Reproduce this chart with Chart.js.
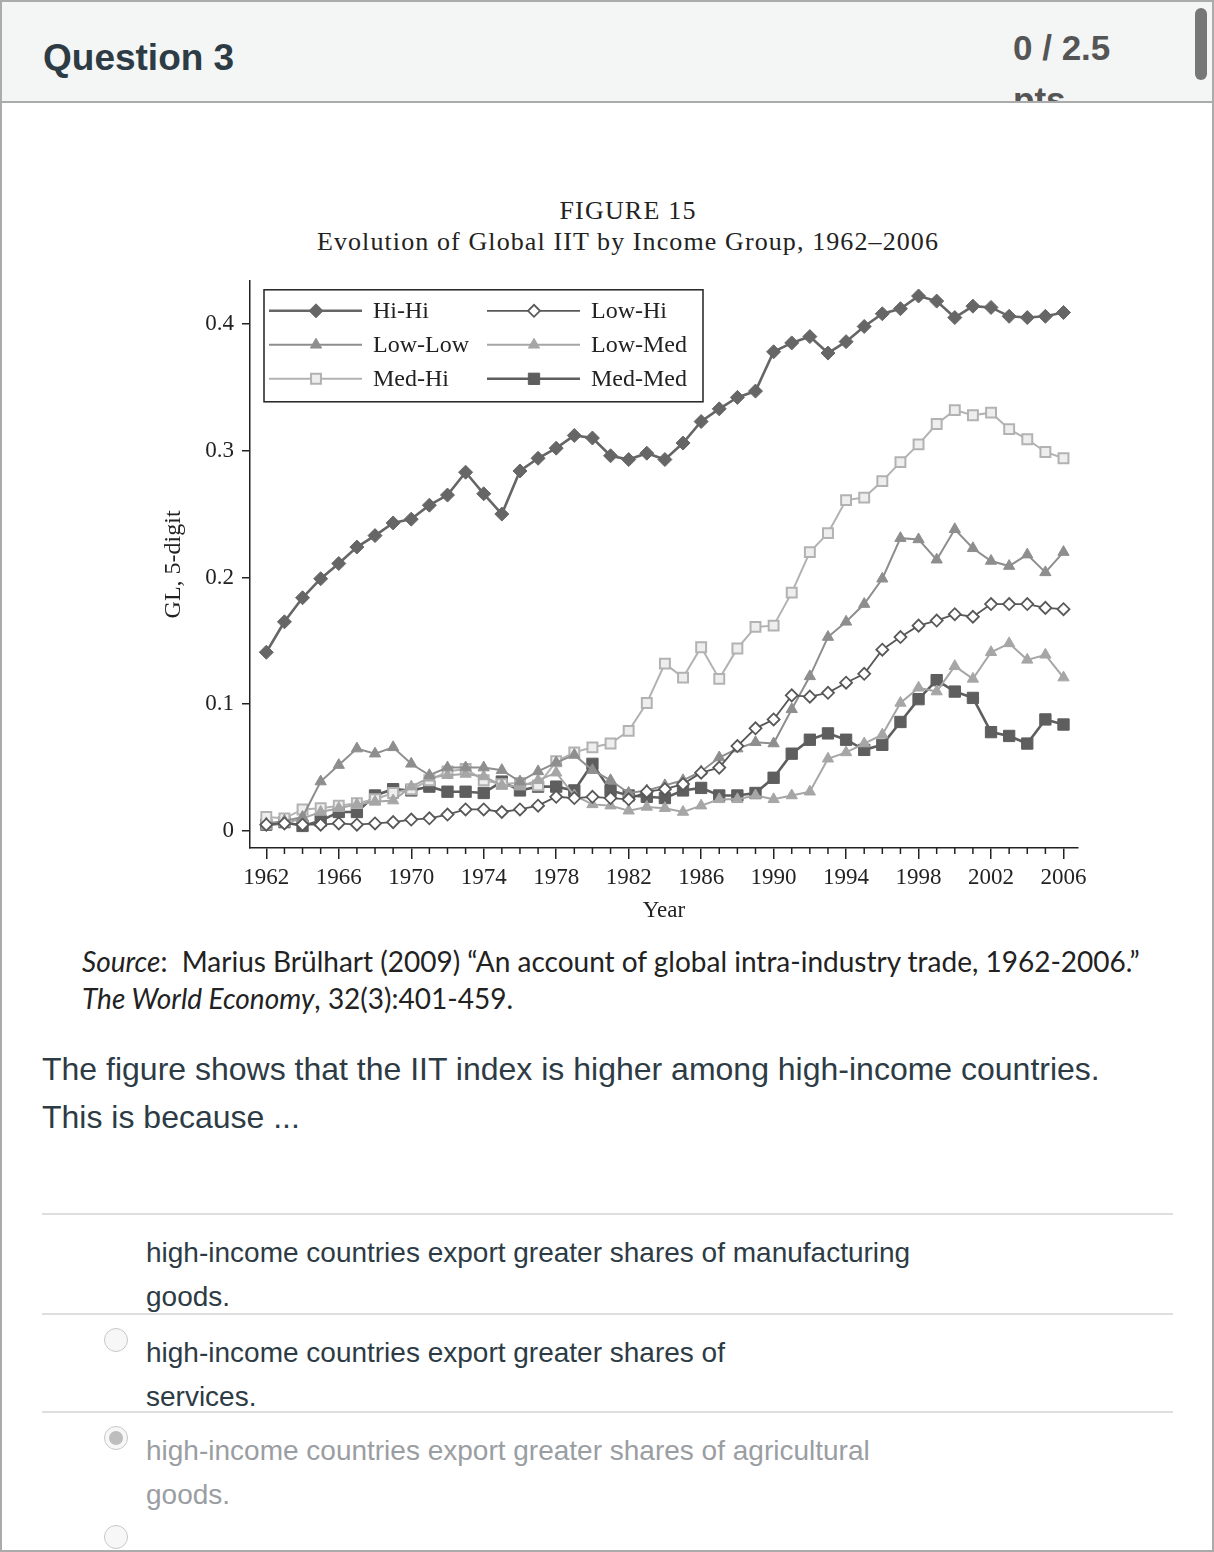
<!DOCTYPE html>
<html lang="en">
<head>
<meta charset="UTF-8">
<title>Question 3</title>
<script src="https://cdn.jsdelivr.net/npm/chart.js"></script>
<style>
    body { margin: 0; background: #fff; }
    .page {
        position: relative;
        width: 1210px;
        height: 1548px;
        border: 2px solid #ababab;
        overflow: hidden;
        font-family: 'Liberation Sans', Arial, sans-serif;
        color: #2d3b45;
    }
    .header {
        position: absolute; left: 0; top: 0; width: 1210px; height: 99px;
        background: #f4f5f5; border-bottom: 2px solid #ababab; overflow: hidden;
    }
    .qtitle { position: absolute; left: 41px; top: 35px; font-size: 37px; font-weight: bold; }
    .pts { position: absolute; left: 1011px; top: 20px; width: 120px; font-size: 35px; font-weight: bold; color: #555; line-height: 52px; }
    .scroll { position: absolute; left: 1193px; top: 6px; width: 12px; height: 72px; border-radius: 6px; background: #777; }
    .fig { position: absolute; left: 0; width: 1252px; text-align: center; font-family: 'Liberation Serif', serif; color: #222; font-size: 26px; }
    #chartBox { position: absolute; left: 148px; top: 257px; width: 950px; height: 671px; }
    .source { position: absolute; left: 80px; top: 941px; font-family: Lato, sans-serif; font-size: 28px; line-height: 37px; color: #222; white-space: nowrap; }
    .qtext { position: absolute; left: 40px; top: 1043px; font-size: 32px; line-height: 48px; white-space: nowrap; }
    .rule { position: absolute; left: 40px; width: 1131px; height: 2px; background: #dedede; }
    .opt { position: absolute; left: 144px; font-size: 28px; line-height: 44px; white-space: nowrap; }
    .radio { position: absolute; width: 22px; height: 22px; border-radius: 50%; border: 1.5px solid #c8c8c8; background: #f7f7f7; }
    .radio.on::after { content: ''; position: absolute; left: 4px; top: 4px; width: 14px; height: 14px; border-radius: 50%; background: #bdbdbd; }
</style>
</head>
<body>
<div class="page">
    <div class="header">
        <div class="qtitle">Question 3</div>
        <div class="pts">0 / 2.5 pts</div>
        <div class="scroll"></div>
    </div>

    <div class="fig" style="top:194px; letter-spacing:1.2px">FIGURE 15</div>
    <div class="fig" style="top:225px; letter-spacing:1.1px">Evolution of Global IIT by Income Group, 1962–2006</div>

    <div id="chartBox"><canvas id="iitChart" width="950" height="671"></canvas></div>

    <div class="source"><i>Source</i>:&nbsp; Marius Brülhart (2009) “An account of global intra-industry trade, 1962-2006.”<br><i>The World Economy</i>, 32(3):401-459.</div>

    <div class="qtext">The figure shows that the IIT index is higher among high-income countries.<br>This is because ...</div>

    <div class="rule" style="top:1211px"></div>
    <div class="opt" style="top:1229px">high-income countries export greater shares of manufacturing<br>goods.</div>
    <div class="rule" style="top:1311px"></div>
    <div class="radio" style="left:102px; top:1326px"></div>
    <div class="opt" style="top:1329px">high-income countries export greater shares of<br>services.</div>
    <div class="rule" style="top:1409px"></div>
    <div class="radio on" style="left:102px; top:1424px"></div>
    <div class="opt" style="top:1427px; color:#9a9ea2">high-income countries export greater shares of agricultural<br>goods.</div>
    <div class="radio" style="left:102px; top:1523px"></div>
</div>

<script>
// --- data ---
const years = [1962,1963,1964,1965,1966,1967,1968,1969,1970,1971,
               1972,1973,1974,1975,1976,1977,1978,1979,1980,1981,
               1982,1983,1984,1985,1986,1987,1988,1989,1990,1991,
               1992,1993,1994,1995,1996,1997,1998,1999,2000,2001,
               2002,2003,2004,2005,2006];
const yTicks = [0, 0.1, 0.2, 0.3, 0.4];

const hiHi = [0.141,0.165,0.184,0.199,0.211,0.224,0.233,0.243,0.246,0.257,
              0.265,0.283,0.266,0.250,0.284,0.294,0.302,0.312,0.310,0.296,
              0.293,0.298,0.293,0.306,0.323,0.333,0.342,0.347,0.378,0.385,
              0.390,0.377,0.386,0.398,0.408,0.412,0.422,0.418,0.405,0.414,
              0.413,0.406,0.405,0.406,0.409];
const lowHi = [0.005,0.006,0.005,0.005,0.006,0.005,0.006,0.007,0.009,0.010,
               0.013,0.017,0.017,0.015,0.017,0.020,0.027,0.026,0.027,0.026,
               0.025,0.031,0.033,0.037,0.046,0.050,0.067,0.081,0.088,0.107,
               0.106,0.109,0.117,0.124,0.143,0.153,0.162,0.166,0.171,0.169,
               0.179,0.179,0.179,0.176,0.175];
const lowLow = [0.006,0.008,0.011,0.039,0.052,0.065,0.061,0.066,0.053,0.044,
                0.050,0.050,0.050,0.048,0.039,0.047,0.054,0.060,0.048,0.040,
                0.030,0.032,0.036,0.040,0.047,0.058,0.065,0.070,0.069,0.096,
                0.122,0.153,0.165,0.179,0.199,0.231,0.230,0.214,0.238,0.223,
                0.213,0.209,0.218,0.204,0.220];
const lowMed = [0.004,0.006,0.010,0.015,0.018,0.021,0.023,0.024,0.035,0.042,
                0.044,0.045,0.043,0.036,0.035,0.040,0.046,0.028,0.021,0.020,
                0.016,0.019,0.018,0.015,0.020,0.025,0.025,0.028,0.025,0.028,
                0.031,0.057,0.062,0.069,0.076,0.101,0.113,0.110,0.130,0.120,
                0.141,0.148,0.135,0.139,0.121];
const medHi = [0.011,0.010,0.017,0.018,0.020,0.022,0.025,0.030,0.033,0.040,
               0.047,0.049,0.040,0.037,0.038,0.036,0.055,0.062,0.066,0.069,
               0.079,0.101,0.132,0.121,0.145,0.120,0.144,0.161,0.162,0.188,
               0.220,0.235,0.261,0.263,0.276,0.291,0.305,0.321,0.332,0.328,
               0.330,0.317,0.309,0.299,0.294];
const medMed = [0.005,0.007,0.004,0.008,0.015,0.015,0.028,0.033,0.032,0.035,
                0.031,0.031,0.030,0.039,0.032,0.035,0.035,0.032,0.053,0.032,
                0.028,0.027,0.026,0.032,0.034,0.028,0.028,0.030,0.042,0.061,
                0.072,0.077,0.072,0.064,0.068,0.086,0.104,0.119,0.110,0.105,
                0.078,0.075,0.069,0.088,0.084];

const serif = 'Liberation Serif';

function series(label, values, style) {
    return Object.assign({
        label: label,
        data: years.map((yr, i) => ({ x: yr, y: values[i] })),
        tension: 0,
        fill: false
    }, style);
}

const datasets = [
    series('Hi-Hi', hiHi, { borderColor: '#666666', backgroundColor: '#666666', borderWidth: 2.6,
        pointStyle: 'rectRot', pointRadius: 7, pointBorderWidth: 1, pointBorderColor: '#666666' }),
    series('Low-Hi', lowHi, { borderColor: '#585858', backgroundColor: '#ffffff', borderWidth: 1.8,
        pointStyle: 'rectRot', pointRadius: 6, pointBorderWidth: 1.8, pointBorderColor: '#585858' }),
    series('Low-Low', lowLow, { borderColor: '#8e8e8e', backgroundColor: '#8e8e8e', borderWidth: 2,
        pointStyle: 'triangle', pointRadius: 6.5, pointBorderWidth: 1, pointBorderColor: '#8e8e8e' }),
    series('Low-Med', lowMed, { borderColor: '#a6a6a6', backgroundColor: '#a6a6a6', borderWidth: 2,
        pointStyle: 'triangle', pointRadius: 6.5, pointBorderWidth: 1, pointBorderColor: '#a6a6a6' }),
    series('Med-Hi', medHi, { borderColor: '#b2b2b2', backgroundColor: '#eeeeee', borderWidth: 2,
        pointStyle: 'rect', pointRadius: 7, pointBorderWidth: 2, pointBorderColor: '#b2b2b2' }),
    series('Med-Med', medMed, { borderColor: '#5e5e5e', backgroundColor: '#5e5e5e', borderWidth: 2.6,
        pointStyle: 'rect', pointRadius: 8, pointBorderWidth: 1, pointBorderColor: '#5e5e5e' })
];

// boxed two-column legend in the top-left corner of the plot
const boxLegend = {
    id: 'boxLegend',
    afterDraw(chart) {
        const ctx = chart.ctx;
        const area = chart.chartArea;
        const left = area.left + 14, top = area.top + 9;
        ctx.save();
        ctx.lineWidth = 1.5;
        ctx.strokeStyle = '#222';
        ctx.strokeRect(left, top, 439, 112);
        ctx.font = '24px "' + serif + '"';
        ctx.textBaseline = 'middle';
        chart.data.datasets.forEach((ds, i) => {
            const col = i % 2, row = Math.floor(i / 2);
            const x0 = left + 5 + col * 218;
            const y0 = top + 21 + row * 34;
            ctx.strokeStyle = ds.borderColor;
            ctx.lineWidth = ds.borderWidth;
            ctx.beginPath();
            ctx.moveTo(x0, y0);
            ctx.lineTo(x0 + 93, y0);
            ctx.stroke();
            ctx.fillStyle = ds.backgroundColor;
            ctx.strokeStyle = ds.pointBorderColor;
            ctx.lineWidth = ds.pointBorderWidth;
            Chart.helpers.drawPoint(ctx, { pointStyle: ds.pointStyle, radius: ds.pointRadius,
                borderWidth: ds.pointBorderWidth, rotation: 0 }, x0 + 47, y0);
            ctx.fillStyle = '#222';
            ctx.fillText(ds.label, x0 + 104, y0 + 1);
        });
        ctx.restore();
    }
};

// short ticks for the years between labelled ones
const minorTicks = {
    id: 'minorTicks',
    afterDraw(chart) {
        const ctx = chart.ctx;
        const xs = chart.scales.x;
        const bottom = chart.chartArea.bottom;
        ctx.save();
        ctx.strokeStyle = '#222';
        ctx.lineWidth = 1.5;
        years.forEach(yr => {
            if ((yr - 1962) % 4 === 0) return;
            const px = xs.getPixelForValue(yr);
            ctx.beginPath();
            ctx.moveTo(px, bottom);
            ctx.lineTo(px, bottom + 6);
            ctx.stroke();
        });
        ctx.restore();
    }
};

new Chart(document.getElementById('iitChart'), {
    type: 'line',
    data: { datasets: datasets },
    options: {
        responsive: false,
        animation: false,
        layout: { padding: { top: 1, right: 22, left: 0, bottom: 0 } },
        plugins: { legend: { display: false }, tooltip: { enabled: false } },
        scales: {
            x: {
                type: 'linear',
                min: 1961.1,
                max: 2006.8,
                afterBuildTicks: s => { s.ticks = years.map(v => ({ value: v })); },
                afterFit: s => { s.height = 82; },
                border: { color: '#222', width: 1.5 },
                grid: {
                    drawOnChartArea: false,
                    tickLength: 11,
                    lineWidth: 1.5,
                    color: c => (c.tick && (c.tick.value - 1962) % 4 === 0) ? '#222' : 'rgba(0,0,0,0)'
                },
                ticks: {
                    autoSkip: false, maxRotation: 0, padding: 5, color: '#222',
                    font: { family: serif, size: 23 },
                    callback: v => (v - 1962) % 4 === 0 ? String(v) : ''
                },
                title: { display: true, text: 'Year', color: '#222',
                    font: { family: serif, size: 23 }, padding: { top: 0, bottom: 5 } }
            },
            y: {
                min: -0.0134,
                max: 0.434,
                afterBuildTicks: s => { s.ticks = yTicks.map(v => ({ value: v })); },
                afterFit: s => { s.width = 100; },
                border: { color: '#222', width: 1.5 },
                grid: { drawOnChartArea: false, tickLength: 8, lineWidth: 1.5, color: '#222' },
                ticks: {
                    padding: 8, color: '#222',
                    font: { family: serif, size: 23 },
                    callback: v => v === 0 ? '0' : v.toFixed(1)
                },
                title: { display: true, text: 'GL, 5-digit', color: '#222',
                    font: { family: serif, size: 24 }, padding: { top: 9, bottom: 0 } }
            }
        }
    },
    plugins: [boxLegend, minorTicks]
});
</script>
</body>
</html>
